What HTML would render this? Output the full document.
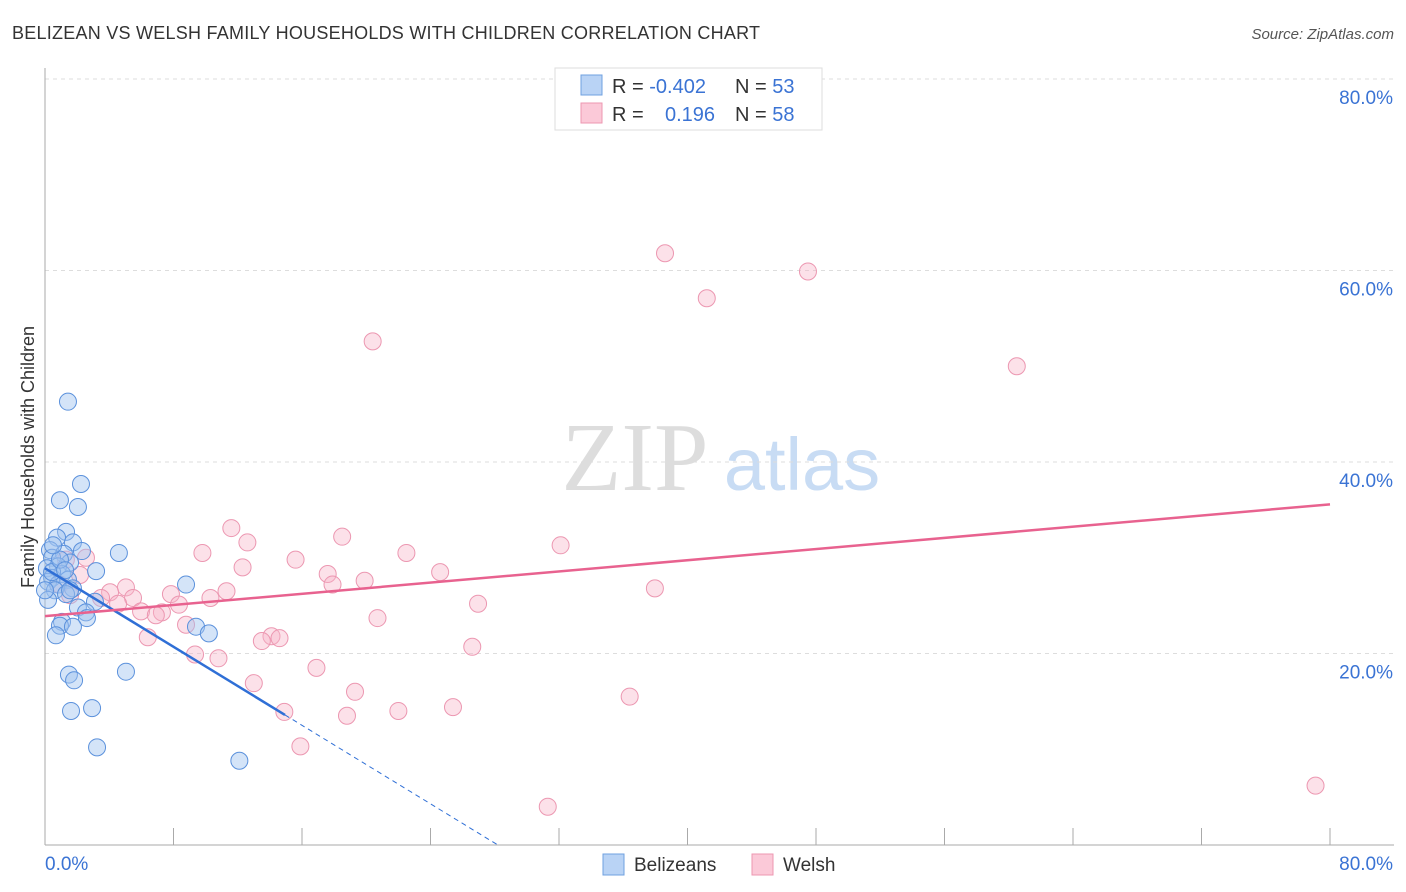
<!DOCTYPE html>
<html><head><meta charset="utf-8"><style>
body{margin:0;background:#fff;font-family:"Liberation Sans",sans-serif}
#c{position:absolute;left:0;top:0}
</style></head><body>
<svg id="c" width="1406" height="892" xmlns="http://www.w3.org/2000/svg">
<text x="12" y="39" font-size="18" fill="#333" textLength="748">BELIZEAN VS WELSH FAMILY HOUSEHOLDS WITH CHILDREN CORRELATION CHART</text>
<text x="1394" y="39" font-size="15" fill="#555" font-style="italic" text-anchor="end">Source: ZipAtlas.com</text>
<text x="0" y="0" transform="translate(34,457) rotate(-90)" font-size="18" fill="#333" text-anchor="middle">Family Households with Children</text>
<g><text x="635" y="490" font-size="98" fill="#ddd" font-family="Liberation Serif,serif" text-anchor="middle">ZIP</text><text x="802" y="490" font-size="74" fill="#c8dcf4" text-anchor="middle">atlas</text></g>
<g id="grid"></g><g id="axes"></g><g id="pts"></g><g id="trend"></g>
<g>
<rect x="555" y="68" width="267" height="62" fill="#fff" stroke="#ddd"/>
<rect x="581" y="75" width="21" height="20" fill="#b9d3f5" stroke="#6fa0e0"/>
<rect x="581" y="103" width="21" height="20" fill="#fbc9d8" stroke="#ec97b1"/>
<text x="612" y="93" font-size="20" fill="#333">R = <tspan fill="#3a73d4">-0.402</tspan></text>
<text x="735" y="93" font-size="20" fill="#333">N = <tspan fill="#3a73d4">53</tspan></text>
<text x="612" y="121" font-size="20" fill="#333">R = <tspan fill="#3a73d4" x="665">0.196</tspan></text>
<text x="735" y="121" font-size="20" fill="#333">N = <tspan fill="#3a73d4">58</tspan></text>
</g>
<g>
<rect x="603" y="854" width="21" height="21" fill="#b9d3f5" stroke="#6fa0e0"/>
<text x="634" y="871" font-size="19" fill="#333">Belizeans</text>
<rect x="752" y="854" width="21" height="21" fill="#fbc9d8" stroke="#ec97b1"/>
<text x="783" y="871" font-size="19" fill="#333">Welsh</text>
</g>
</svg>
<script>
const blueX=[1.43,2.24,0.93,2.05,1.31,0.75,1.74,2.3,4.6,0.31,1.18,0.44,1.56,0.81,0.12,3.18,1.06,0.44,1.43,0.19,0.81,8.78,1.74,0.62,1.31,0.19,3.11,2.05,2.55,2.61,1.06,0.93,1.74,9.4,10.2,0.68,5.04,1.49,1.81,1.62,2.93,3.24,12.1,0.44,0.93,0,1.56,1.25,0.5];
const blueY=[46.3,37.7,36.0,35.3,32.7,32.1,31.6,30.7,30.5,30.8,30.4,30.0,29.5,29.1,28.9,28.6,28.3,27.9,27.7,27.5,27.2,27.2,26.8,26.6,26.2,25.6,25.4,24.8,24.3,23.7,23.3,22.9,22.8,22.8,22.1,21.9,18.1,17.8,17.2,14.0,14.3,10.2,8.8,28.5,29.8,26.6,26.6,28.7,31.3];
const pinkX=[38.6,47.5,41.2,20.4,60.5,11.6,12.6,18.5,32.1,9.8,22.5,2.55,15.6,12.3,24.6,17.6,19.9,17.9,5.04,37.97,11.3,4.05,7.84,5.48,10.3,3.49,4.55,8.34,26.96,5.98,7.28,6.9,20.7,8.78,14.1,14.6,13.5,6.4,26.6,9.34,10.8,16.9,13.0,19.3,36.4,25.4,22.0,18.8,14.9,15.9,31.3,79.1,1.3,0.93,1.56,2.18];
const pinkY=[61.8,59.9,57.1,52.6,50.0,33.1,31.6,32.2,31.3,30.5,30.5,30.0,29.8,29.0,28.5,28.3,27.6,27.2,26.9,26.8,26.5,26.4,26.2,25.8,25.8,25.8,25.2,25.1,25.2,24.4,24.3,24.0,23.7,23.0,21.8,21.6,21.3,21.7,20.7,19.9,19.5,18.5,16.9,16.0,15.5,14.4,14.0,13.5,13.9,10.3,4.0,6.2,29.8,27.2,26.1,28.2];
const yTicks=[20,40,60,80];
const xTickLabels=["0.0%","80.0%"];
const blueTrend=[28.9,-1.025,14.94]; // intercept, slope, solid-end x
const pinkTrend=[23.9,0.146];
const NS="http://www.w3.org/2000/svg";
const X=v=>45+v*1285/80, Y=v=>845-v*191.5/20;
function el(t,a,p){const e=document.createElementNS(NS,t);for(const k in a)e.setAttribute(k,a[k]);document.getElementById(p).appendChild(e);return e;}
yTicks.forEach(t=>{
 const g=el('line',{x1:45,x2:1394,y1:Y(t),y2:Y(t),stroke:'#ddd','stroke-dasharray':'4,4'},'grid');
 
 
 const l=el('text',{x:1393,y:Y(t)+25,'font-size':19,fill:'#3a73d4','text-anchor':'end'},'axes');l.textContent=t.toFixed(1)+'%';
 
 
});
let a=el('line',{x1:45,x2:45,y1:68,y2:845,stroke:'#aaa'},'axes');


a=el('line',{x1:45,x2:1394,y1:845,y2:845,stroke:'#aaa'},'axes');


for(let i=0;i<=10;i++){const x=45+i*128.5;const t=el('line',{x1:x,x2:x,y1:828,y2:845,stroke:'#aaa'},'axes');
 
 }
[[0,'start',45],[80,'end',1393]].forEach((d,i)=>{const t=el('text',{x:d[2],y:870,'font-size':19,fill:'#3a73d4','text-anchor':d[1]},'axes');t.textContent=xTickLabels[i];
 
 });
pinkX.forEach((v,i)=>{const c=el('circle',{cx:X(v),cy:Y(pinkY[i]),r:8.5,fill:'rgba(248,180,200,0.4)',stroke:'#ec97b1','stroke-width':1},'pts');
 
 });
blueX.forEach((v,i)=>{const c=el('circle',{cx:X(v),cy:Y(blueY[i]),r:8.5,fill:'rgba(160,196,240,0.45)',stroke:'#5b91dc','stroke-width':1},'pts');
 
 });
const bf=x=>blueTrend[0]+blueTrend[1]*x;
let t=el('line',{x1:X(0),y1:Y(bf(0)),x2:X(blueTrend[2]),y2:Y(bf(blueTrend[2])),stroke:'#2f6fd6','stroke-width':2.5},'trend');


const xe=-blueTrend[0]/blueTrend[1];
t=el('line',{x1:X(blueTrend[2]),y1:Y(bf(blueTrend[2])),x2:X(xe),y2:Y(0),stroke:'#2f6fd6','stroke-width':1,'stroke-dasharray':'5,4'},'trend');


t=el('line',{x1:X(0),y1:Y(pinkTrend[0]),x2:X(80),y2:Y(pinkTrend[0]+pinkTrend[1]*80),stroke:'#e8628f','stroke-width':2.5},'trend');


</script>
</body></html>
